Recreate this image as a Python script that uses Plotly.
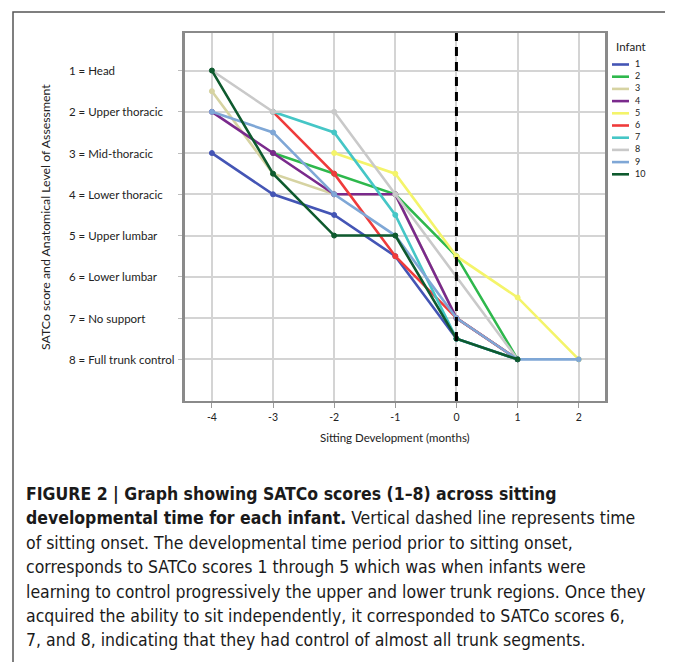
import plotly.graph_objects as go

months = [-4, -3, -2, -1, 0, 1, 2]
infant_names = ["1", "2", "3", "4", "5", "6", "7", "8", "9", "10"]
infant_colors = ["#4455b5", "#2eb84c", "#d6d3a2", "#7a2a8c", "#f4f46a",
                 "#ef3b3b", "#45c6c6", "#c9c9c9", "#7fa7d6", "#0e5a2e"]

infant1 = [3, 4, 4.5, 5.5, 7.5, 8, None]
infant2 = [None, 3, 3.5, 4, 5.5, 8, None]
infant3 = [1.5, 3.5, 4, 4, 7, 8, None]
infant4 = [2, 3, 4, 4, 7, 8, None]
infant5 = [None, None, 3, 3.5, 5.5, 6.5, 8]
infant6 = [None, 2, 3.5, 5.5, 7, 8, None]
infant7 = [None, 2, 2.5, 4.5, 7.5, 8, None]
infant8 = [1, 2, 2, 4, 6, 8, None]
infant9 = [2, 2.5, 4, 5, 7, 8, 8]
infant10 = [1, 3.5, 5, 5, 7.5, 8, None]
series = [infant1, infant2, infant3, infant4, infant5,
          infant6, infant7, infant8, infant9, infant10]

score_values = [1, 2, 3, 4, 5, 6, 7, 8]
score_labels = ["1 = Head", "2 = Upper thoracic", "3 = Mid-thoracic",
                "4 = Lower thoracic", "5 = Upper lumbar", "6 = Lower lumbar",
                "7 = No support", "8 = Full trunk control"]

y_title = "SATCo score and Anatomical Level of Assessment"
x_title = "Sitting Development (months)"
legend_title = "Infant"
caption_lines = [
    "<b>FIGURE 2 | Graph showing SATCo scores (1–8) across sitting</b>",
    "<b>developmental time for each infant.</b> Vertical dashed line represents time",
    "of sitting onset. The developmental time period prior to sitting onset,",
    "corresponds to SATCo scores 1 through 5 which was when infants were",
    "learning to control progressively the upper and lower trunk regions. Once they",
    "acquired the ability to sit independently, it corresponded to SATCo scores 6,",
    "7, and 8, indicating that they had control of almost all trunk segments.",
]

OFF = 8  # default page body margin
W, H = 673 - OFF, 662 - OFF
# plot area in page pixels
L, R, T, B = 185, 605, 33, 401
pw, ph = R - L, B - T


def px(xp):
    return (xp - L) / pw


def py(yp):
    return (B - yp) / ph


chart_font = "Lato, 'Open Sans', sans-serif"
cap_font = "'Liberation Sans Narrow', 'DejaVu Sans Condensed', 'Liberation Sans', sans-serif"

fig = go.Figure()
for name, color, vals in zip(infant_names, infant_colors, series):
    fig.add_trace(go.Scatter(
        x=months, y=vals, mode="lines+markers", name=name,
        line=dict(color=color, width=2.6),
        marker=dict(color=color, size=5, line=dict(color=color, width=1)),
        connectgaps=False, showlegend=False,
    ))

shapes = []
shapes.append(dict(type="line", xref="x", yref="paper", x0=0, x1=0, y0=0, y1=1,
                   line=dict(color="black", width=3, dash="9px,6px"), layer="above"))
shapes.append(dict(type="rect", xref="paper", yref="paper",
                   x0=px(13), x1=px(671), y0=py(12), y1=py(675),
                   line=dict(color="#555555", width=1.5)))

annotations = []
for v, lab in zip(score_values, score_labels):
    annotations.append(dict(xref="paper", yref="y", x=px(67), y=v, text=lab,
                            xanchor="left", yanchor="middle", showarrow=False,
                            font=dict(family=chart_font, size=11.5, color="#222222")))
annotations.append(dict(xref="paper", yref="paper", x=px(45), y=0.5, text=y_title,
                        textangle=-90, showarrow=False, xanchor="center", yanchor="middle",
                        font=dict(family=chart_font, size=12.3, color="#222222")))
annotations.append(dict(xref="paper", yref="paper", x=0.5, y=py(437), text=x_title,
                        showarrow=False, xanchor="center", yanchor="middle",
                        font=dict(family=chart_font, size=11.5, color="#222222")))
annotations.append(dict(xref="paper", yref="paper", x=px(614), y=py(46), text=legend_title,
                        showarrow=False, xanchor="left", yanchor="middle",
                        font=dict(family=chart_font, size=11.5, color="#222222")))
for i, (name, color) in enumerate(zip(infant_names, infant_colors)):
    yy = 63.5 + i * 12.2
    shapes.append(dict(type="line", xref="paper", yref="paper",
                       x0=px(612), x1=px(629), y0=py(yy + 1), y1=py(yy + 1),
                       line=dict(color=color, width=2.6)))
    annotations.append(dict(xref="paper", yref="paper", x=px(633), y=py(yy), text=name,
                            showarrow=False, xanchor="left", yanchor="middle",
                            font=dict(family=chart_font, size=9, color="#222222")))
for i, line in enumerate(caption_lines):
    annotations.append(dict(xref="paper", yref="paper", x=px(24), y=py(494 + i * 24.4),
                            text=line, showarrow=False, xanchor="left", yanchor="middle",
                            font=dict(family=cap_font, size=17.5, color="#1a1a1a")))

fig.update_layout(
    width=W, height=H,
    margin=dict(l=L - OFF, r=(673 - R), t=T - OFF, b=(662 - B), pad=0),
    paper_bgcolor="white", plot_bgcolor="white",
    showlegend=False,
    shapes=shapes, annotations=annotations,
    xaxis=dict(range=[-4.44, 2.43], tickvals=months, ticktext=[str(m) for m in months],
               showgrid=True, gridcolor="#d4d4d4", gridwidth=1.5, zeroline=False,
               showline=True, linecolor="#8a8a8a", linewidth=2, mirror=True,
               ticks="outside", ticklen=5, tickcolor="#9a9a9a",
               tickfont=dict(family=chart_font, size=10.5, color="#222222")),
    yaxis=dict(range=[9.01, 0.09], tickvals=score_values, showticklabels=False,
               showgrid=True, gridcolor="#d4d4d4", gridwidth=1.5, zeroline=False,
               showline=True, linecolor="#8a8a8a", linewidth=2.5, mirror=True,
               ticks="outside", ticklen=4, tickcolor="#bdbdbd"),
)

fig.write_html("out.html")
